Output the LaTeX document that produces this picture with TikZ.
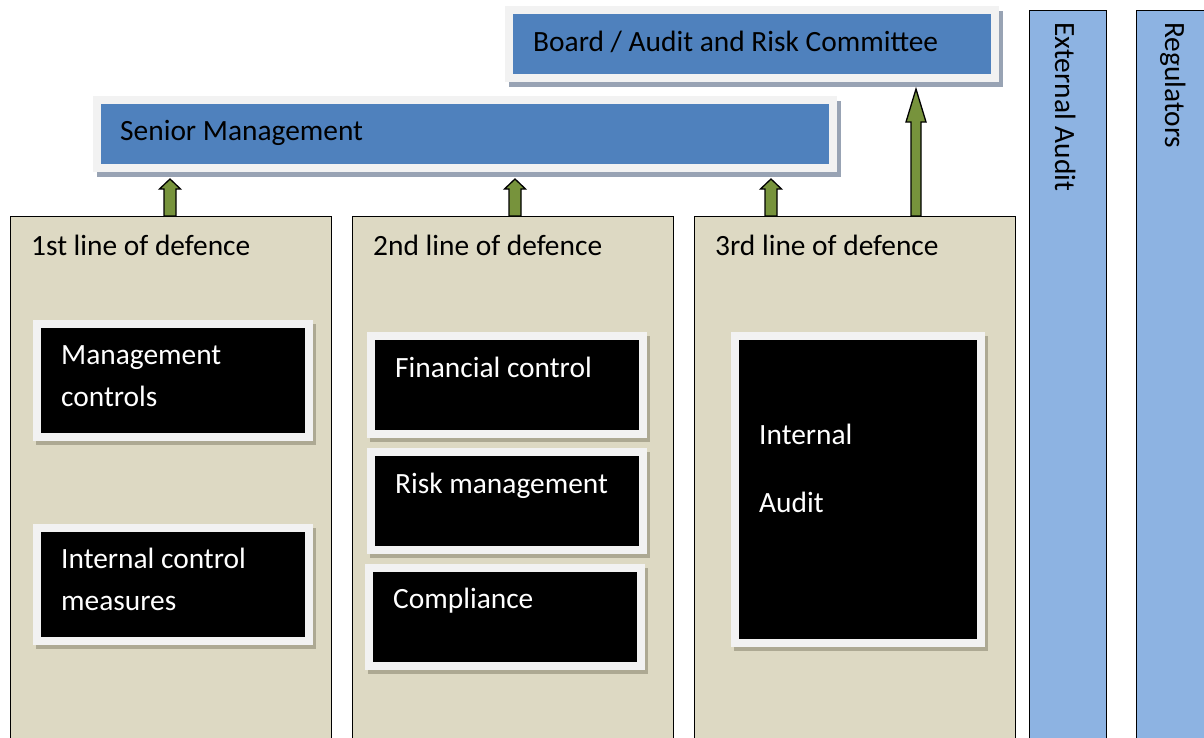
\documentclass[tikz,border=0pt]{standalone}
\usepackage{fontspec}
\setmainfont{Carlito}
\usetikzlibrary{calc,shadows}
\definecolor{boxblue}{HTML}{4F81BD}
\definecolor{barblue}{HTML}{8DB3E2}
\definecolor{framegray}{HTML}{F2F2F2}
\definecolor{shadeblue}{HTML}{98A3B4}
\definecolor{shadebeige}{HTML}{ADA993}
\definecolor{linebeige}{HTML}{DDD9C3}
\definecolor{arrowgreen}{HTML}{77933C}
\tikzset{
  base/.style={rectangle, inner sep=0pt, outer sep=0pt, anchor=north west},
  headbox/.style={base, fill=boxblue, draw=framegray, line width=8pt,
    drop shadow={shadow xshift=4pt, shadow yshift=-5pt, fill=shadeblue, draw=shadeblue, line width=8pt, opacity=1}},
  ctrlbox/.style={base, fill=black, draw=framegray, line width=8pt,
    drop shadow={shadow xshift=3pt, shadow yshift=-4pt, fill=shadebeige, draw=shadebeige, line width=8pt, opacity=1}},
  linebox/.style={base, fill=linebeige, draw=black, line width=1pt},
  sidebar/.style={base, fill=barblue, draw=black, line width=1pt},
  txt/.style={inner sep=0pt, anchor=base west, align=left},
  arrowbody/.style={fill=arrowgreen, draw=black, line width=1.3pt, line join=miter},
}
% block arrow: start point, target node, half shaft, half head, head length
\newcommand{\blockarrow}[5]{%
  \draw[arrowbody] ($(#1)+(-#3,0)$) -- ($(#1 |- #2)+(-#3,#5)$)
    -- ($(#1 |- #2)+(-#4,#5)$) -- (#1 |- #2) -- ($(#1 |- #2)+(#4,#5)$)
    -- ($(#1 |- #2)+(#3,#5)$) -- ($(#1)+(#3,0)$) -- cycle;}
\begin{document}
\begin{tikzpicture}[x=1pt, y=-1pt, font=\fontsize{29.4}{42}\selectfont]
	\useasboundingbox (0,0) rectangle (1204,737);
	\clip (0,0) rectangle (1204,737);
	% top boxes
	\node[headbox, minimum width=486pt, minimum height=68pt] (board) at (509,10) {};
	\node[headbox, minimum width=736pt, minimum height=68pt] (senior) at (97,100) {};
	\node[txt] at (533,51) {Board / Audit and Risk Committee};
	\node[txt] at (120,140) {Senior Management};
	% side bars
	\node[sidebar, minimum width=77pt, minimum height=740pt] (extaudit) at (1029,10) {};
	\node[sidebar, minimum width=77pt, minimum height=740pt] (regul) at (1136,10) {};
	\node[txt, rotate=-90] at (1055,22) {External Audit};
	\node[txt, rotate=-90] at (1165,22) {Regulators};
	% three lines of defence
	\node[linebox, minimum width=321pt, minimum height=540pt] (first) at (10,216) {};
	\node[linebox, minimum width=321pt, minimum height=540pt] (second) at (352,216) {};
	\node[linebox, minimum width=321pt, minimum height=540pt] (third) at (694,216) {};
	\node[txt] at (31,255) {1st line of defence};
	\node[txt] at (373,255) {2nd line of defence};
	\node[txt] at (715,255) {3rd line of defence};
	% controls
	\node[ctrlbox, minimum width=272pt, minimum height=113pt] (mgmt) at (37,324) {};
	\node[ctrlbox, minimum width=272pt, minimum height=113pt] (intctrl) at (37,528) {};
	\node[ctrlbox, minimum width=272pt, minimum height=98pt] (fin) at (371,336) {};
	\node[ctrlbox, minimum width=272pt, minimum height=98pt] (risk) at (371,452) {};
	\node[ctrlbox, minimum width=272pt, minimum height=98pt] (compl) at (369,568) {};
	\node[ctrlbox, minimum width=246pt, minimum height=307pt] (ia) at (735,336) {};
	\node[txt, white] at (61,406) {Management\\controls};
	\node[txt, white] at (61,610) {Internal control\\measures};
	\node[txt, white] at (395,377) {Financial control};
	\node[txt, white] at (395,493) {Risk management};
	\node[txt, white] at (393,608) {Compliance};
	\node[txt, white] at (759,512) {Internal\\[26pt]Audit};
	% arrows
	\coordinate (a1) at (170,216);
	\coordinate (a2) at (515,216);
	\coordinate (a3) at (771,216);
	\coordinate (a4) at (916,216);
	\coordinate (tipsm) at (0,179);
	\coordinate (tipbd) at (0,89);
	\blockarrow{a1}{tipsm}{6}{10.5}{10}
	\blockarrow{a2}{tipsm}{6}{10.5}{10}
	\blockarrow{a3}{tipsm}{6}{10.5}{10}
	\blockarrow{a4}{tipbd}{5}{10}{33}
\end{tikzpicture}
\end{document}
